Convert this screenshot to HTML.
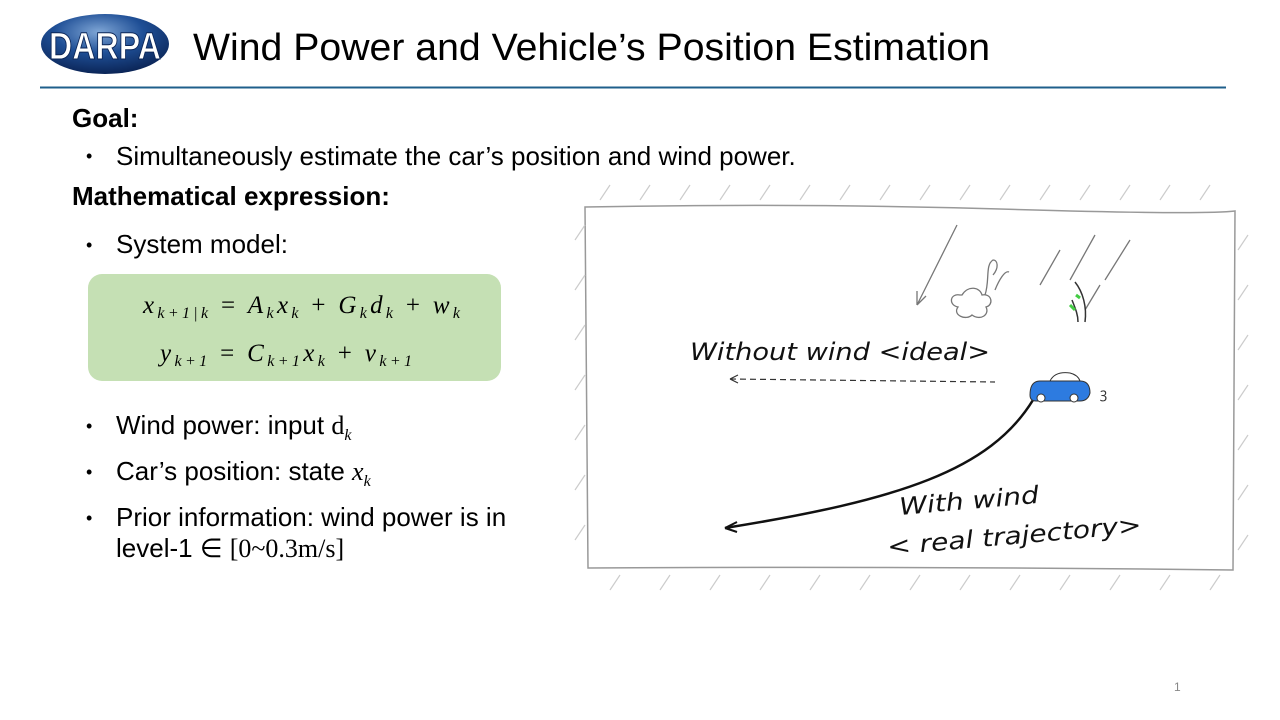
<!DOCTYPE html>
<html><head><meta charset="utf-8"><style>
body{margin:0;width:1280px;height:720px;background:#fff;position:relative;overflow:hidden;font-family:"Liberation Sans",sans-serif;color:#000}
.a{position:absolute;white-space:nowrap}
.m{font-family:"Liberation Serif",serif;font-style:italic}
.b{font-size:26px}
.dot{position:absolute;font-size:18px}
</style></head><body>
<svg class="a" style="left:0;top:0" width="1280" height="720">
<defs><radialGradient id="g" cx="0.45" cy="0.3" r="0.7"><stop offset="0" stop-color="#7fa6d6"/><stop offset="0.5" stop-color="#1f4f96"/><stop offset="1" stop-color="#0b2557"/></radialGradient></defs>
<ellipse cx="105" cy="44" rx="64" ry="30" fill="url(#g)"/>
<text x="105" y="59" text-anchor="middle" font-family="Liberation Sans" font-weight="bold" font-size="38" fill="#fff" stroke="#0b2557" stroke-width="1" textLength="112" lengthAdjust="spacingAndGlyphs">DARPA</text>
<text x="193" y="60" font-family="Liberation Sans" font-size="38" textLength="797" lengthAdjust="spacingAndGlyphs">Wind Power and Vehicle’s Position Estimation</text>
<line x1="40" y1="87.5" x2="1226" y2="87.5" stroke="#1f5f8b" stroke-width="2"/>
<rect x="88" y="274" width="413" height="107" rx="14" fill="#c5e0b4"/>
<g font-family="Liberation Serif" font-style="italic" font-size="25">
<text x="143" y="313" textLength="317" lengthAdjust="spacing">x<tspan font-size="16" dy="5">k+1|k</tspan><tspan dy="-5" font-style="normal"> = </tspan>A<tspan font-size="16" dy="5">k</tspan><tspan dy="-5">x</tspan><tspan font-size="16" dy="5">k</tspan><tspan dy="-5" font-style="normal"> + </tspan>G<tspan font-size="16" dy="5">k</tspan><tspan dy="-5">d</tspan><tspan font-size="16" dy="5">k</tspan><tspan dy="-5" font-style="normal"> + </tspan>w<tspan font-size="16" dy="5">k</tspan></text>
<text x="160" y="361" textLength="252" lengthAdjust="spacing">y<tspan font-size="16" dy="5">k+1</tspan><tspan dy="-5" font-style="normal"> = </tspan>C<tspan font-size="16" dy="5">k+1</tspan><tspan dy="-5">x</tspan><tspan font-size="16" dy="5">k</tspan><tspan dy="-5" font-style="normal"> + </tspan>v<tspan font-size="16" dy="5">k+1</tspan></text>
</g>
<g stroke="#999" stroke-width="1.5" fill="none">
<path d="M585 207 Q800 203 1000 209 T1235 211 L1233 570 Q900 566 588 568 Z"/>
</g>
<g stroke="#ccc" stroke-width="1.2">
<path d="M600 200l10-15M640 200l10-15M680 200l10-15M720 200l10-15M760 200l10-15M800 200l10-15M840 200l10-15M880 200l10-15M920 200l10-15M960 200l10-15M1000 200l10-15M1040 200l10-15M1080 200l10-15M1120 200l10-15M1160 200l10-15M1200 200l10-15"/>
<path d="M575 240l10-15M575 290l10-15M575 340l10-15M575 390l10-15M575 440l10-15M575 490l10-15M575 540l10-15"/>
<path d="M1238 250l10-15M1238 300l10-15M1238 350l10-15M1238 400l10-15M1238 450l10-15M1238 500l10-15M1238 550l10-15"/>
<path d="M610 590l10-15M660 590l10-15M710 590l10-15M760 590l10-15M810 590l10-15M860 590l10-15M910 590l10-15M960 590l10-15M1010 590l10-15M1060 590l10-15M1110 590l10-15M1160 590l10-15M1210 590l10-15"/>
</g>
<g stroke="#777" stroke-width="1.3" fill="none">
<path d="M957 225 L917 305 M917 305l0-14M917 305l9-9"/>
<path d="M960 295c-10-2-12 10-2 12c-6 8 8 14 14 8c8 6 18 0 14-8c8-2 6-14-4-12c-2-8-14-10-20 0z"/>
<path d="M985 295c5-15 0-30 8-35c5 0 6 8 0 15M995 290c4-10 10-20 14-18"/>
<path d="M1060 250l-20 35M1095 235l-25 45M1100 285l-15 25M1130 240l-25 40"/>
</g>
<path d="M1075 282c8 10 12 25 10 40M1072 300c4 10 6 15 6 22" stroke="#333" stroke-width="1.5" fill="none"/>
<path d="M1070 305l5 5M1076 295l4 3" stroke="#4c4" stroke-width="3"/>
<path d="M730 379 L995 382" stroke="#333" stroke-width="1.2" stroke-dasharray="6 4" fill="none"/>
<path d="M730 379l8-4M730 379l8 4" stroke="#333" stroke-width="1.2"/>
<path d="M1033 400 C990 470 900 500 725 528" stroke="#111" stroke-width="2.5" fill="none"/>
<path d="M725 528l12-6M725 528l12 4" stroke="#111" stroke-width="2"/>
<path d="M1030 395 q0-14 10-14 h40 q10 0 10 12 q-2 8-10 8 h-44 q-6 0-6-6z" fill="#2d7be0" stroke="#333"/>
<path d="M1050 381q5-10 20-8q8 2 10 8" fill="none" stroke="#333"/>
<circle cx="1041" cy="398" r="4" fill="#fff" stroke="#333"/><circle cx="1074" cy="398" r="4" fill="#fff" stroke="#333"/>
<text x="1100" y="398" font-size="14" fill="#333">ꝫ</text>
<text x="690" y="360" font-family="DejaVu Sans" font-size="24" font-style="italic" fill="#111" textLength="300" lengthAdjust="spacingAndGlyphs">Without wind &lt;ideal&gt;</text>
<text x="900" y="515" font-family="DejaVu Sans" font-size="24" font-style="italic" fill="#111" transform="rotate(-5 900 515)" textLength="140" lengthAdjust="spacingAndGlyphs">With wind</text>
<text x="888" y="555" font-family="DejaVu Sans" font-size="24" font-style="italic" fill="#111" transform="rotate(-5 888 555)" textLength="255" lengthAdjust="spacingAndGlyphs">&lt; real trajectory&gt;</text>
</svg>
<div class="a b" style="left:72px;top:103px;font-weight:bold">Goal:</div>
<div class="dot" style="left:86px;top:146px">•</div>
<div class="a b" style="left:116px;top:141px">Simultaneously estimate the car’s position and wind power.</div>
<div class="a b" style="left:72px;top:181px;font-weight:bold">Mathematical expression:</div>
<div class="dot" style="left:86px;top:235px">•</div>
<div class="a b" style="left:116px;top:229px">System model:</div>
<div class="dot" style="left:86px;top:416px">•</div>
<div class="a b" style="left:116px;top:410px">Wind power: input <span style="font-family:'Liberation Serif',serif">d<sub class="m" style="font-size:16px">k</sub></span></div>
<div class="dot" style="left:86px;top:462px">•</div>
<div class="a b" style="left:116px;top:456px">Car’s position: state <span class="m">x<sub style="font-size:16px">k</sub></span></div>
<div class="dot" style="left:86px;top:508px">•</div>
<div class="a b" style="left:116px;top:502px">Prior information: wind power is in</div>
<div class="a b" style="left:116px;top:533px">level-1 ∈ <span style="font-family:'Liberation Serif',serif">[0~0.3m/s]</span></div>
<div class="a" style="left:1174px;top:680px;font-size:12px;color:#888">1</div>
</body></html>
